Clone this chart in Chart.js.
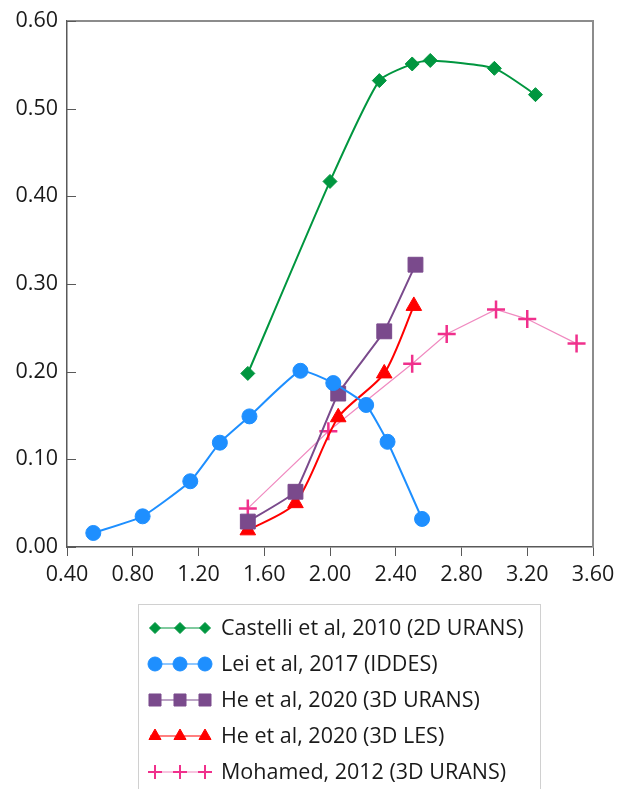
<!DOCTYPE html>
<html>
<head>
<meta charset="utf-8">
<script src="https://cdn.jsdelivr.net/npm/chart.js@4.4.1/dist/chart.umd.min.js"></script>
<style>
  html, body { margin: 0; padding: 0; background: #fff; }
  #chart { display: block; }
</style>
</head>
<body>
<canvas id="chart" width="617" height="789"></canvas>
<script>
/* data */
const xTicks = [0.4, 0.8, 1.2, 1.6, 2.0, 2.4, 2.8, 3.2, 3.6];
const yTicks = [0, 0.1, 0.2, 0.3, 0.4, 0.5, 0.6];

const castelliX = [1.50, 2.00, 2.30, 2.50, 2.61, 3.00, 3.25];
const castelliY = [0.198, 0.417, 0.532, 0.551, 0.555, 0.546, 0.516];

const leiX = [0.56, 0.86, 1.15, 1.33, 1.51, 1.82, 2.02, 2.22, 2.35, 2.56];
const leiY = [0.016, 0.035, 0.075, 0.119, 0.149, 0.201, 0.187, 0.162, 0.120, 0.032];

const heUransX = [1.50, 1.79, 2.05, 2.33, 2.52];
const heUransY = [0.029, 0.063, 0.175, 0.246, 0.322];

const heLesX = [1.50, 1.79, 2.05, 2.33, 2.51];
const heLesY = [0.019, 0.050, 0.148, 0.198, 0.275];

const mohamedX = [1.50, 1.99, 2.50, 2.71, 3.01, 3.20, 3.50];
const mohamedY = [0.044, 0.132, 0.209, 0.243, 0.271, 0.260, 0.232];

const labels = [
  "Castelli et al, 2010 (2D URANS)",
  "Lei et al, 2017 (IDDES)",
  "He et al, 2020 (3D URANS)",
  "He et al, 2020 (3D LES)",
  "Mohamed, 2012 (3D URANS)"
];

const FONT = "'Open Sans', 'DejaVu Sans', sans-serif";
const AXIS_COLOR = "#595959";

function pts(xs, ys) {
  return xs.map((x, i) => ({ x: x, y: ys[i] }));
}

const series = [
  { data: pts(castelliX, castelliY), color: "#00963f", line: "#00963f", style: "rectRot", r: 7, lw: 2, tension: 0.2 },
  { data: pts(leiX, leiY), color: "#1e8fff", line: "#1e8fff", style: "circle", r: 7.5, lw: 2, tension: 0.15 },
  { data: pts(heUransX, heUransY), color: "#7a4a8c", line: "#7a4a8c", style: "rect", r: 10.5, lw: 2, tension: 0.1 },
  { data: pts(heLesX, heLesY), color: "#ff0000", line: "#ff0000", style: "triangle", r: 9, lw: 2, tension: 0.25 },
  { data: pts(mohamedX, mohamedY), color: "#f0308c", line: "#f08ac0", style: "cross", r: 9, lw: 1.2, tension: 0 }
];

/* top/right frame + inward y ticks */
const framePlugin = {
  id: "frame",
  beforeDatasetsDraw(chart) {
    const { ctx, chartArea: a, scales } = chart;
    ctx.save();
    ctx.strokeStyle = "#8c8c8c";
    ctx.lineWidth = 2;
    ctx.beginPath();
    ctx.moveTo(a.left, a.top);
    ctx.lineTo(a.right, a.top);
    ctx.lineTo(a.right, a.bottom);
    ctx.stroke();

    ctx.strokeStyle = AXIS_COLOR;
    ctx.lineWidth = 1;
    yTicks.forEach(v => {
      const y = Math.round(scales.y.getPixelForValue(v)) + 0.5;
      ctx.beginPath();
      ctx.moveTo(a.left, y);
      ctx.lineTo(a.left + 9, y);
      ctx.stroke();
    });
    ctx.restore();
  }
};

/* boxed legend with three markers per entry */
const legendPlugin = {
  id: "boxLegend",
  afterDraw(chart) {
    const ctx = chart.ctx;
    ctx.save();
    ctx.strokeStyle = "#d0d0d0";
    ctx.lineWidth = 1;
    ctx.strokeRect(138.5, 604.5, 402, 200);

    const sizes = [5.5, 7, 8.5, 7, 7];
    series.forEach((s, i) => {
      const cy = 628 + i * 36;
      ctx.strokeStyle = s.line;
      ctx.lineWidth = 1.2;
      ctx.beginPath();
      ctx.moveTo(150, cy);
      ctx.lineTo(206, cy);
      ctx.stroke();

      [155, 180, 205].forEach(cx => {
        ctx.fillStyle = s.color;
        ctx.strokeStyle = s.color;
        ctx.lineWidth = s.style === "cross" ? 2 : 1;
        Chart.helpers.drawPoint(ctx, {
          pointStyle: s.style,
          radius: sizes[i],
          rotation: 0,
          borderWidth: ctx.lineWidth
        }, cx, cy);
      });

      ctx.fillStyle = "#1a1a1a";
      ctx.font = "21.5px " + FONT;
      ctx.textBaseline = "middle";
      ctx.textAlign = "left";
      ctx.fillText(labels[i], 221, cy + 1);
    });
    ctx.restore();
  }
};

new Chart(document.getElementById("chart"), {
  type: "line",
  data: {
    datasets: series.map((s, i) => ({
      label: labels[i],
      data: s.data,
      borderColor: s.line,
      backgroundColor: s.color,
      borderWidth: s.lw,
      tension: s.tension,
      pointStyle: s.style,
      pointRadius: s.r,
      pointBackgroundColor: s.color,
      pointBorderColor: s.color,
      pointBorderWidth: s.style === "cross" ? 2.5 : 1,
      fill: false
    }))
  },
  options: {
    responsive: false,
    animation: false,
    layout: { padding: { left: 0, top: 21, right: 24, bottom: 197 } },
    plugins: {
      legend: { display: false },
      tooltip: { enabled: false }
    },
    scales: {
      x: {
        type: "linear",
        min: 0.4,
        max: 3.6,
        afterBuildTicks: s => { s.ticks = xTicks.map(v => ({ value: v })); },
        afterFit: s => { s.height = 45; s.paddingLeft = 0; s.paddingRight = 0; },
        ticks: {
          callback: v => v.toFixed(2),
          color: "#1a1a1a",
          font: { family: FONT, size: 21.5 },
          padding: 6,
          maxRotation: 0
        },
        grid: { drawOnChartArea: false, drawTicks: true, tickLength: 9, color: AXIS_COLOR },
        border: { color: AXIS_COLOR, width: 1.5 }
      },
      y: {
        type: "linear",
        min: 0,
        max: 0.6,
        afterBuildTicks: s => { s.ticks = yTicks.map(v => ({ value: v })); },
        afterFit: s => { s.width = 67; s.paddingTop = 0; s.paddingBottom = 0; },
        ticks: {
          callback: v => v.toFixed(2),
          color: "#1a1a1a",
          font: { family: FONT, size: 21.5 },
          padding: 9
        },
        grid: { drawOnChartArea: false, drawTicks: false },
        border: { color: AXIS_COLOR, width: 1.5 }
      }
    }
  },
  plugins: [framePlugin, legendPlugin]
});
</script>
</body>
</html>
